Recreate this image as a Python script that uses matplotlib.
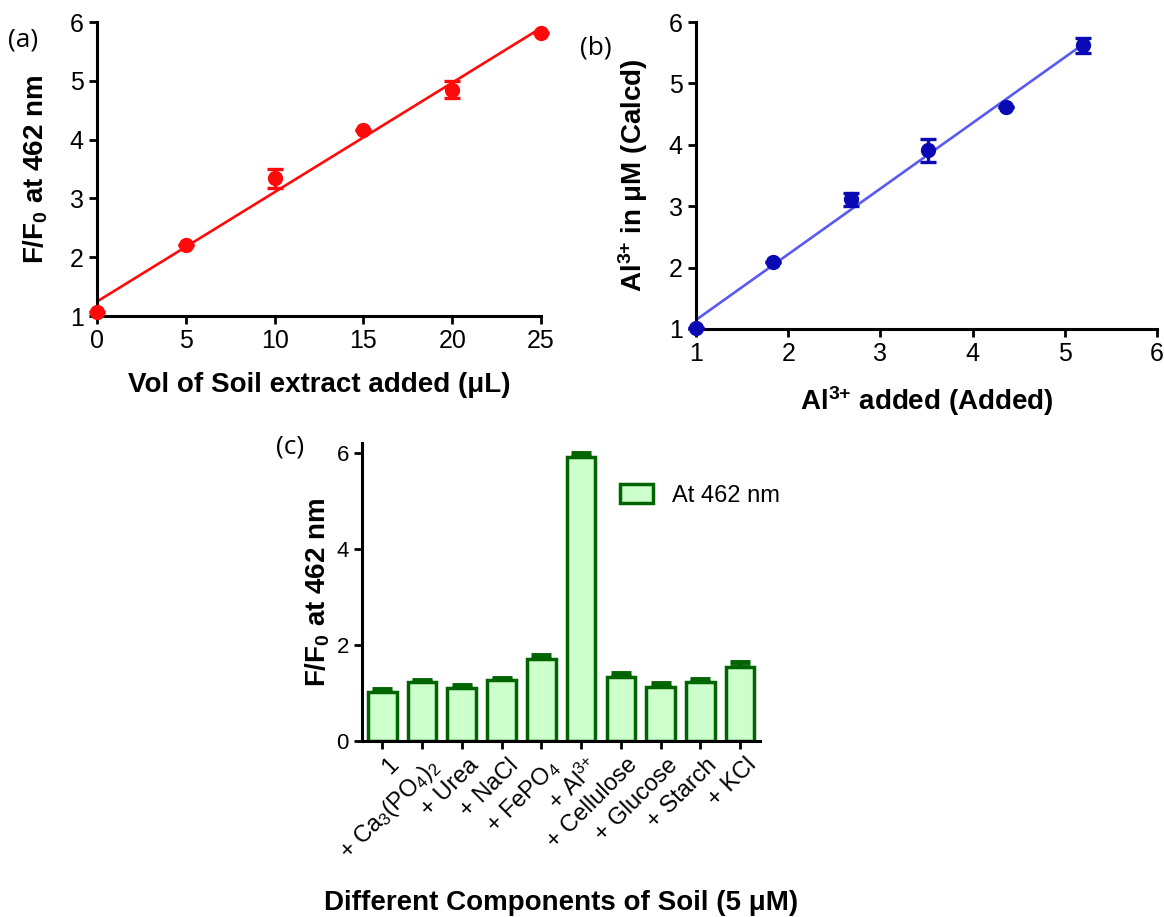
import matplotlib
matplotlib.use("Agg")
import matplotlib.pyplot as plt
import matplotlib.transforms as mtrans
import numpy as np

# ---------------- data ----------------
# panel (a)
vol_added = [0, 5, 10, 15, 20, 25]
ratio_a = [1.06, 2.20, 3.34, 4.16, 4.85, 5.82]
err_a = [0.0, 0.0, 0.155, 0.0, 0.15, 0.0]

# panel (b)
al_added = [1.0, 1.84, 2.68, 3.52, 4.36, 5.2]
al_calcd = [1.01, 2.09, 3.11, 3.91, 4.62, 5.62]
err_b = [0.0, 0.0, 0.10, 0.19, 0.0, 0.12]

# panel (c)
components = ["1", "+ Ca$_3$(PO$_4$)$_2$", "+ Urea", "+ NaCl", "+ FePO$_4$",
              "+ Al$^{3{+}}$", "+ Cellulose", "+ Glucose", "+ Starch", "+ KCl"]
ratio_c = [1.02, 1.22, 1.10, 1.26, 1.71, 5.90, 1.34, 1.12, 1.22, 1.55]
err_c = [0.06, 0.05, 0.07, 0.06, 0.08, 0.09, 0.08, 0.09, 0.07, 0.09]

# ---------------- style ----------------
plt.rcParams['font.family'] = ['Liberation Sans', 'DejaVu Sans']
plt.rcParams['mathtext.fontset'] = 'custom'
plt.rcParams['mathtext.rm'] = 'Liberation Sans'
plt.rcParams['mathtext.it'] = 'Liberation Sans:italic'
plt.rcParams['mathtext.bf'] = 'Liberation Sans:bold'

W, H = 1164, 917
fig = plt.figure(figsize=(W / 100, H / 100), dpi=100)


def axes_px(x0, x1, ytop, ybot):
    return fig.add_axes([x0 / W, 1 - ybot / H, (x1 - x0) / W, (ybot - ytop) / H])


def style(ax, tick_size=18):
    for s in ('top', 'right'):
        ax.spines[s].set_visible(False)
    for s in ('left', 'bottom'):
        ax.spines[s].set_linewidth(2.2)
    ax.tick_params(width=2.0, length=6, labelsize=tick_size, direction='out')


# ---------------- panel (a) ----------------
ax1 = axes_px(97, 541, 22, 316)
style(ax1)
red = '#ff0a0a'
xa = np.array(vol_added, float)
ya = np.array(ratio_a, float)
k, b = np.polyfit(xa, ya, 1)
xl = np.array([xa.min(), xa.max()])
ax1.plot(xl, k * xl + b, color=red, lw=1.9, zorder=2)
ax1.errorbar(xa, ya, yerr=err_a, fmt='o', color=red, ms=10, elinewidth=2.4,
             capsize=6, capthick=2.4, zorder=3, clip_on=False)
ax1.set_xlim(0, 25)
ax1.set_ylim(1, 6)
ax1.set_xticks([0, 5, 10, 15, 20, 25])
ax1.set_yticks([1, 2, 3, 4, 5, 6])
ax1.set_xlabel('Vol of Soil extract added (μL)', fontsize=20, fontweight='bold')
ax1.set_ylabel(r'F/F$_\mathbf{0}$ at 462 nm', fontsize=20, fontweight='bold')
ax1.xaxis.set_label_coords(0.5, -0.19)
ax1.yaxis.set_label_coords(-0.105, 0.5)

# ---------------- panel (b) ----------------
ax2 = axes_px(696, 1157, 22, 329)
style(ax2)
dblue = '#0a0ab4'
lblue = '#5a5af0'
xb = np.array(al_added, float)
yb = np.array(al_calcd, float)
k2, b2 = np.polyfit(xb, yb, 1)
xl2 = np.array([xb.min(), xb.max()])
ax2.plot(xl2, k2 * xl2 + b2, color=lblue, lw=1.9, zorder=2)
ax2.errorbar(xb, yb, yerr=err_b, fmt='o', color=dblue, ms=10, elinewidth=2.4,
             capsize=6, capthick=2.4, zorder=3, clip_on=False)
ax2.set_xlim(1, 6)
ax2.set_ylim(1, 6)
ax2.set_xticks([1, 2, 3, 4, 5, 6])
ax2.set_yticks([1, 2, 3, 4, 5, 6])
ax2.set_xlabel(r'Al$^\mathbf{3{+}}$ added (Added)', fontsize=20, fontweight='bold')
ax2.set_ylabel(r'Al$^\mathbf{3{+}}$ in μM (Calcd)', fontsize=20, fontweight='bold')
ax2.xaxis.set_label_coords(0.5, -0.18)
ax2.yaxis.set_label_coords(-0.10, 0.5)

# ---------------- panel (c) ----------------
ax3 = axes_px(362, 760, 443, 741)
style(ax3, tick_size=16)
green = '#006400'
light = '#ccffcc'
xc = np.arange(len(components))
ax3.bar(xc, ratio_c, width=0.72, color=light, edgecolor=green, linewidth=2.5,
        label='At 462 nm', zorder=2)
ax3.errorbar(xc, ratio_c, yerr=[np.zeros(len(err_c)), err_c], fmt='none',
             ecolor=green, elinewidth=2.4, capsize=7, capthick=3.5, zorder=1)
ax3.set_xlim(-0.51, 9.5)
ax3.set_ylim(0, 6.2)
ax3.set_yticks([0, 2, 4, 6])
ax3.set_xticks(xc)
ax3.set_xticklabels(components, rotation=45, ha='right', rotation_mode='anchor',
                    fontsize=17)
offset = mtrans.ScaledTranslation(4 / 72, 0, fig.dpi_scale_trans)
for lab in ax3.get_xticklabels():
    lab.set_transform(lab.get_transform() + offset)
ax3.set_ylabel(r'F/F$_\mathbf{0}$ at 462 nm', fontsize=20, fontweight='bold')
ax3.yaxis.set_label_coords(-0.075, 0.5)
ax3.set_xlabel('Different Components of Soil (5 μM)', fontsize=20, fontweight='bold')
ax3.xaxis.set_label_coords(0.5, -0.50)
leg = ax3.legend(loc='upper left', bbox_to_anchor=(0.595, 0.935), frameon=False,
                 fontsize=17, handlelength=1.4, handleheight=0.9)

# ---------------- panel letters ----------------
fig.text(8 / W, 1 - 40 / H, '(a)', fontsize=19, family='Open Sans', va='center')
fig.text(580 / W, 1 - 48 / H, '(b)', fontsize=19, family='Open Sans', va='center')
fig.text(276 / W, 1 - 447 / H, '(c)', fontsize=19, family='Open Sans', va='center')

fig.savefig('out.png', dpi=100)
